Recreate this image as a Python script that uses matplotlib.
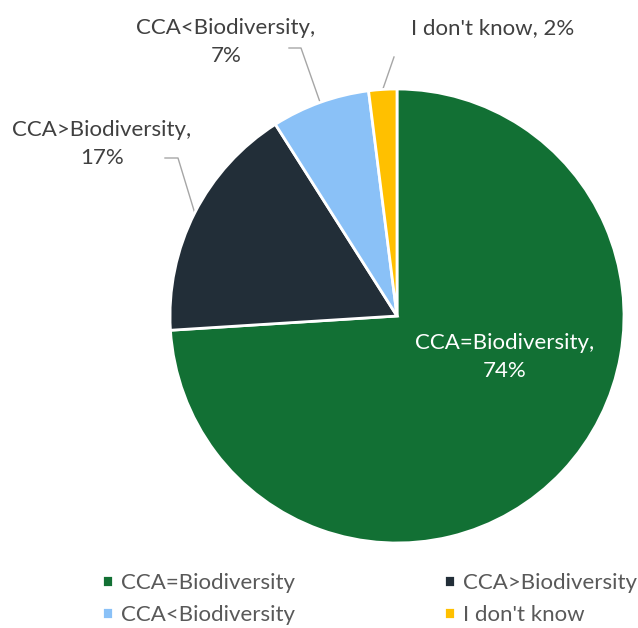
import numpy as np
import matplotlib
matplotlib.use("Agg")
from matplotlib import pyplot as plt

plt.rcParams['font.family'] = ['Lato', 'DejaVu Sans']

categories = ["CCA=Biodiversity", "CCA>Biodiversity", "CCA<Biodiversity", "I don't know"]
shares = [74, 17, 7, 2]
colors = ["#127034", "#222e38", "#8ac1f7", "#ffc000"]

W, H = 638, 628
fig = plt.figure(figsize=(W / 100, H / 100), dpi=100)

# pie centre and radius in pixels
cx, cy, r = 397, 316, 227
ax = fig.add_axes([(cx - r) / W, (H - cy - r) / H, 2 * r / W, 2 * r / H])

wedges, _ = ax.pie(shares, colors=colors, startangle=90, counterclock=False,
                   radius=1, wedgeprops=dict(edgecolor="white", linewidth=2))
ax.set_xlim(-1, 1)
ax.set_ylim(-1, 1)
ax.set_aspect("equal")
ax.axis("off")


def px(x, y):
    # pixel position -> pie data units
    return (x - cx) / r, (cy - y) / r


def mid(w):
    a = np.deg2rad((w.theta1 + w.theta2) / 2)
    return np.cos(a), np.sin(a)


# label block centres (px) and leader line start points (px)
label_pos = [(505, 357), (102, 144), (226, 42), (493, 28)]
leaders = [None, [(165, 158), (178, 158)], [(289, 48), (301, 48)], [(394, 57)]]
one_line = [False, False, False, True]

for i, (cat, v) in enumerate(zip(categories, shares)):
    x, y = px(*label_pos[i])
    sep = " " if one_line[i] else "\n"
    txt = f"{cat},{sep}{v}%"
    col = "white" if i == 0 else "#404040"
    ax.text(x, y, txt, ha="center", va="center", fontsize=16, color=col,
            linespacing=1.45, clip_on=False)
    if leaders[i]:
        pts = [px(*p) for p in leaders[i]] + [mid(wedges[i])]
        xs, ys = zip(*pts)
        ax.plot(xs, ys, color="#a6a6a6", lw=1, clip_on=False, zorder=0.5)

# legend fills column-wise, so reorder to get rows (=, >) and (<, ?)
order = [0, 2, 1, 3]
leg = fig.legend([wedges[k] for k in order], [categories[k] for k in order],
                 ncol=2, loc="lower left",
                 bbox_to_anchor=(102 / W, 3 / H, (637 - 102) / W, 60 / H),
                 mode="expand", frameon=False, fontsize=16,
                 handlelength=0.5, handleheight=0.5, handletextpad=0.35,
                 labelspacing=0.55, borderpad=0, borderaxespad=0)
for t in leg.get_texts():
    t.set_color("#595959")

fig.savefig("out.png", dpi=100)
